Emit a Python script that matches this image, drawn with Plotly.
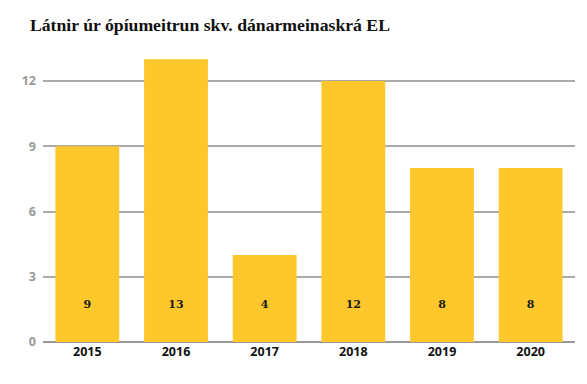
import plotly.graph_objects as go

years = ["2015", "2016", "2017", "2018", "2019", "2020"]
deaths = [9, 13, 4, 12, 8, 8]
y_ticks = [0, 3, 6, 9, 12]
title_text = "Látnir úr ópíumeitrun skv. dánarmeinaskrá EL"

BAR = "#FEC72C"

fig = go.Figure()
fig.add_trace(go.Bar(x=years, y=deaths, marker=dict(color=BAR, line=dict(width=0)),
                     hoverinfo="x+y"))
fig.add_trace(go.Scatter(x=years, y=[1.7] * len(years), mode="text",
                         text=[str(v) for v in deaths],
                         textfont=dict(family="DejaVu Serif", size=11, color="#1a1a1a", weight="bold"),
                         hoverinfo="skip"))

fig.update_layout(
    width=587, height=384,
    margin=dict(l=43, r=12, t=55, b=42),
    paper_bgcolor="white", plot_bgcolor="white",
    showlegend=False,
    bargap=0.28,
    title=dict(text="<b>" + title_text + "</b>", x=0.051, xanchor="left", y=0.935, yanchor="middle",
               font=dict(family="Liberation Serif", size=17.7, color="#111")),
    xaxis=dict(showgrid=False, showline=False, ticks="",
               tickfont=dict(family="Open Sans", size=12.5, color="#111", weight="bold")),
    yaxis=dict(range=[0, 13.2], tickvals=y_ticks, showgrid=True, gridcolor="#aaaaaa", gridwidth=1.5,
               zeroline=True, zerolinecolor="#999999", zerolinewidth=1.5,
               ticks="", ticklabelstandoff=6,
               tickfont=dict(family="Open Sans", size=12.5, color="#999999", weight="bold")),
)
fig.write_html("out.html", config={"displayModeBar": False})

with open("out.html", "r", encoding="utf-8") as f:
    html = f.read()
html = html.replace("<head>", "<head><style>html,body{margin:0;padding:0;overflow:hidden;}</style>", 1)
with open("out.html", "w", encoding="utf-8") as f:
    f.write(html)
